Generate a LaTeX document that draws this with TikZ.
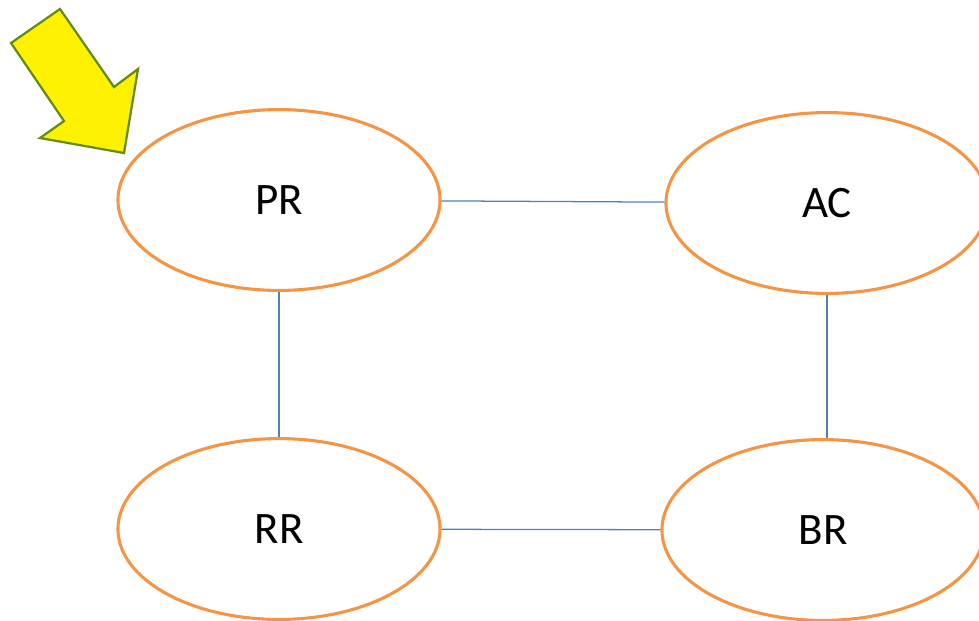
\documentclass[tikz,border=0pt]{standalone}
\usepackage{fontspec}
\setmainfont{Carlito}
\usepackage{tikz}
\usetikzlibrary{shapes.geometric}

\definecolor{ringorange}{RGB}{245,148,66}
\definecolor{linkblue}{RGB}{79,129,189}
\definecolor{arrowgreen}{RGB}{100,140,20}

\begin{document}
\begin{tikzpicture}[
  x=0.025cm, y=-0.025cm,
  state node/.style={draw=ringorange, ellipse, line width=2.2pt,
    minimum width=8.05cm, minimum height=4.52cm, inner sep=0pt,
    font=\fontsize{32}{38}\selectfont},
  link/.style={draw=linkblue, line width=0.9pt},
  pointer/.style={fill=yellow, draw=arrowgreen, line width=1.6pt, line join=miter}
]
  \useasboundingbox (0,0) rectangle (979,620);

  % the four states
  \node[state node] (PR) at (279,200) {PR};
  \node[state node] (AC) at (827,203) {AC};
  \node[state node] (RR) at (279,529) {RR};
  \node[state node] (BR) at (823,530) {BR};

  % links between them
  \draw[link] (PR) -- (AC);
  \draw[link] (PR) -- (RR);
  \draw[link] (AC.south) -- (AC.south |- BR.north);
  \draw[link] (RR) -- (BR);

  % start marker
  \draw[pointer] (60,9) -- (11,43) -- (64,121) -- (40,138) -- (124,153)
    -- (138,69) -- (114,87) -- cycle;
\end{tikzpicture}
\end{document}
